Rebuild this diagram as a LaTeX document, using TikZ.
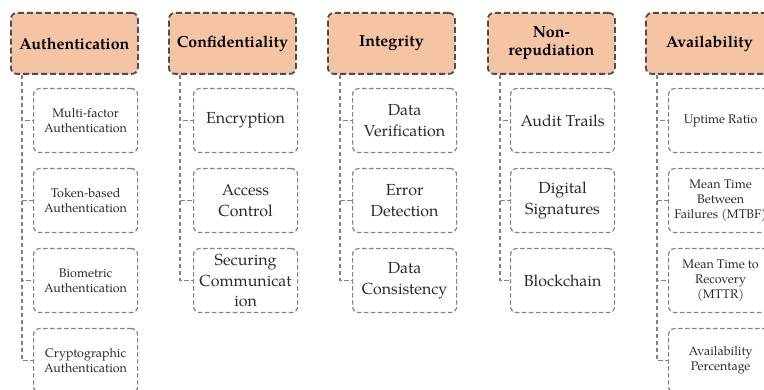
\documentclass[tikz,border=0pt]{standalone}
\usepackage{fontspec}
\setmainfont{TeX Gyre Pagella}
\begin{document}
\begin{tikzpicture}[x=1pt,y=-1pt,
  hdr/.style={draw=hdrborder, fill=hdrfill, dash pattern=on 6pt off 3pt, line width=1.8pt,
    rounded corners=6pt, minimum width=127pt, minimum height=61pt, inner sep=0pt,
    font=\fontsize{16}{18}\selectfont\bfseries, align=center, anchor=north west, text=black},
  kid/.style={draw=kidborder, dash pattern=on 4.5pt off 2.5pt, line width=1.2pt,
    rounded corners=6pt, minimum width=104pt, minimum height=64pt, inner sep=0pt,
    align=center, anchor=north west, text=kidtext},
  big/.style={font=\fontsize{16}{20.5}\selectfont},
  small/.style={font=\fontsize{12.5}{15}\selectfont},
  conn/.style={draw=kidborder, dash pattern=on 4.5pt off 2.5pt, line width=1.1pt},
]
\definecolor{hdrfill}{HTML}{F4C4A4}
\definecolor{hdrborder}{HTML}{4E4E4E}
\definecolor{kidborder}{HTML}{828282}
\definecolor{kidtext}{HTML}{2A2A2A}
\clip (0,0) rectangle (764,390);
\useasboundingbox (0,0) rectangle (764,390);
\fill[white] (0,0) rectangle (764,390);

% headers
\node[hdr] (h1) at (10,12) {Authentication};
\node[hdr] (h2) at (168,12) {Confidentiality};
\node[hdr] (h3) at (327,12) {Integrity};
\node[hdr] (h4) at (487,12) {Non-\\repudiation};
\node[hdr] (h5) at (645,12) {Availability};

% Authentication
\node[kid,small] (a1) at (33,88) {Multi-factor\\Authentication};
\node[kid,small] (a2) at (33,168) {Token-based\\Authentication};
\node[kid,small] (a3) at (33,248) {Biometric\\Authentication};
\node[kid,small] (a4) at (33,328) {Cryptographic\\Authentication};

% Confidentiality
\node[kid,big] (c1) at (193,88) {Encryption};
\node[kid,big] (c2) at (193,168) {Access\\Control};
\node[kid,big] (c3) at (193,248) {Securing\\Communicat\\ion};

% Integrity
\node[kid,big] (i1) at (352,88) {Data\\Verification};
\node[kid,big] (i2) at (352,168) {Error\\Detection};
\node[kid,big] (i3) at (352,248) {Data\\Consistency};

% Non-repudiation
\node[kid,big] (n1) at (510,88) {Audit Trails};
\node[kid,big] (n2) at (510,168) {Digital\\Signatures};
\node[kid,big] (n3) at (510,248) {Blockchain};

% Availability
\node[kid,small] (v1) at (668,88) {Uptime Ratio};
\node[kid,small] (v2) at (668,168) {Mean Time\\Between\\Failures (MTBF)};
\node[kid,small] (v3) at (668,248) {Mean Time to\\Recovery\\(MTTR)};
\node[kid,small] (v4) at (668,328) {Availability\\Percentage};

% connectors
\foreach \k in {a1,a2,a3,a4} \draw[conn] ([xshift=12pt]h1.south west) |- (\k.west);
\foreach \k in {c1,c2,c3} \draw[conn] ([xshift=12pt]h2.south west) |- (\k.west);
\foreach \k in {i1,i2,i3} \draw[conn] ([xshift=13pt]h3.south west) |- (\k.west);
\foreach \k in {n1,n2,n3} \draw[conn] ([xshift=13pt]h4.south west) |- (\k.west);
\foreach \k in {v1,v2,v3,v4} \draw[conn] ([xshift=12pt]h5.south west) |- (\k.west);
\end{tikzpicture}
\end{document}
